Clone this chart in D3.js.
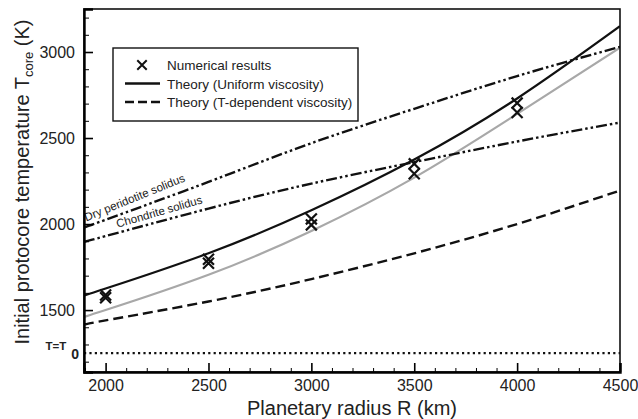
<!DOCTYPE html>
<html>
<head>
<meta charset="utf-8">
<script src="https://cdn.jsdelivr.net/npm/d3@7"></script>
<style>
  body { margin: 0; background: #fff; }
  svg { font-family: "Liberation Sans", Arial, Helvetica, sans-serif; }
</style>
</head>
<body>
<div id="d3-container"></div>
<script>
/**
 * CONSTANTS AND GLOBALS
 * */
const width = 638,
  height = 419,
  margin = { top: 9, bottom: 47, left: 84, right: 18 };

/**
 * DATA
 * */
const radiusGrid = [1895, 2000, 2500, 3000, 3500, 4000, 4500];
const uniformTheory = [1585, 1625, 1830, 2080, 2375, 2730, 3150];
const grayCurve = [1461, 1500, 1705, 1960, 2270, 2640, 3025];
const tDependentTheory = [1415, 1440, 1550, 1680, 1830, 2000, 2195];
const dryPeridotiteSolidus = [1980, 2025, 2245, 2470, 2670, 2860, 3030];
const chondriteSolidus = [1897, 1930, 2090, 2235, 2360, 2480, 2590];

const numRadius = [2000, 2000, 2500, 2500, 3000, 3000, 3500, 3500, 4000, 4000];
const numTemp = [1588, 1572, 1795, 1772, 2030, 1995, 2350, 2292, 2703, 2648];

const xTicks = [2000, 2500, 3000, 3500, 4000, 4500];
const yTicks = [1500, 2000, 2500, 3000];
const tZero = 1250; // where the T = T0 reference line sits on the axis

const legendItems = ["Numerical results", "Theory (Uniform viscosity)", "Theory (T-dependent viscosity)"];

let svg;

function init() {
  svg = d3.select("#d3-container")
    .append("svg")
    .attr("width", width)
    .attr("height", height);

  const x = d3.scaleLinear()
    .domain([1895, 4500])
    .range([margin.left, width - margin.right]);

  const y = d3.scaleLinear()
    .domain([1140, 3250])
    .range([height - margin.bottom, margin.top]);

  const line = vals => d3.line()
    .x((d, i) => x(radiusGrid[i]))
    .y(d => y(d))
    .curve(d3.curveNatural)(vals);

  // clip so the curves stop at the frame
  svg.append("clipPath").attr("id", "plot-clip")
    .append("rect")
    .attr("x", margin.left).attr("y", margin.top)
    .attr("width", width - margin.left - margin.right)
    .attr("height", height - margin.top - margin.bottom);

  const plot = svg.append("g").attr("clip-path", "url(#plot-clip)");

  // T = T0 dotted line
  plot.append("line")
    .attr("x1", margin.left).attr("x2", width - margin.right)
    .attr("y1", y(tZero)).attr("y2", y(tZero))
    .attr("stroke", "#111").attr("stroke-width", 2.2)
    .attr("stroke-dasharray", "2.2,3.2");

  // curves
  const curves = [
    { vals: grayCurve, color: "#a8a8a8", w: 2.2, dash: null },
    { vals: tDependentTheory, color: "#111", w: 2.4, dash: "10,5" },
    { vals: dryPeridotiteSolidus, color: "#111", w: 2.4, dash: "11,3,2.5,3,2.5,3" },
    { vals: chondriteSolidus, color: "#111", w: 2.4, dash: "11,3,2.5,3,2.5,3" },
    { vals: uniformTheory, color: "#111", w: 2.2, dash: null },
  ];
  plot.selectAll("path.curve")
    .data(curves)
    .join("path")
    .attr("class", "curve")
    .attr("fill", "none")
    .attr("stroke", d => d.color)
    .attr("stroke-width", d => d.w)
    .attr("stroke-dasharray", d => d.dash)
    .attr("d", d => line(d.vals));

  // numerical results (x markers)
  const cross = d3.symbol().type(d3.symbolX).size(80);
  plot.selectAll("path.num")
    .data(numRadius.map((r, i) => [r, numTemp[i]]))
    .join("path")
    .attr("class", "num")
    .attr("d", cross)
    .attr("fill", "none")
    .attr("stroke", "#111")
    .attr("stroke-width", 2.2)
    .attr("transform", d => `translate(${x(d[0])},${y(d[1])})`);

  // solidus labels, rotated along the curve
  const solidusLabels = [
    { text: "Dry peridotite solidus", vals: dryPeridotiteSolidus, r: 1915, off: 5, tilt: -2 },
    { text: "Chondrite solidus", vals: chondriteSolidus, r: 2065, off: 5, tilt: -1 },
  ];
  solidusLabels.forEach(lab => {
    const t0 = d3.scaleLinear().domain(radiusGrid).range(lab.vals);
    const px = x(lab.r), py = y(t0(lab.r));
    const ang = Math.atan2(y(t0(lab.r + 300)) - py, x(lab.r + 300) - px) * 180 / Math.PI + lab.tilt;
    svg.append("text")
      .attr("transform", `translate(${px},${py}) rotate(${ang}) translate(0,${-lab.off})`)
      .attr("font-size", 11.5)
      .attr("fill", "#222")
      .text(lab.text);
  });

  // frame
  svg.append("rect")
    .attr("x", margin.left).attr("y", margin.top)
    .attr("width", width - margin.left - margin.right)
    .attr("height", height - margin.top - margin.bottom)
    .attr("fill", "none").attr("stroke", "#111").attr("stroke-width", 1.6);

  // x axis ticks (inward)
  const xMinor = d3.range(1900, 4501, 100).filter(v => v % 500 !== 0);
  const xAxis = svg.append("g").attr("transform", `translate(0,${height - margin.bottom})`);
  xAxis.append("g")
    .call(d3.axisBottom(x).tickValues(xMinor).tickSize(-4).tickFormat(""))
    .call(g => g.select(".domain").remove());
  xAxis.append("g")
    .call(d3.axisBottom(x).tickValues(xTicks).tickSize(-9).tickPadding(8).tickFormat(d3.format("d")))
    .call(g => g.select(".domain").attr("stroke-width", 2.4))
    .call(g => g.selectAll(".tick line").attr("stroke-width", 1.6))
    .call(g => g.selectAll("text").attr("font-size", 16).attr("fill", "#222")
      .attr("font-family", "Liberation Sans, Arial, sans-serif"));

  // y axis ticks (inward)
  const yMinor = d3.range(1200, 3201, 100).filter(v => v % 500 !== 0);
  const yAxis = svg.append("g").attr("transform", `translate(${margin.left},0)`);
  yAxis.append("g")
    .call(d3.axisLeft(y).tickValues(yMinor).tickSize(-5).tickFormat(""))
    .call(g => g.select(".domain").remove());
  yAxis.append("g")
    .call(d3.axisLeft(y).tickValues(yTicks).tickSize(-9).tickPadding(9).tickFormat(d3.format("d")))
    .call(g => g.select(".domain").attr("stroke-width", 2.4))
    .call(g => g.selectAll(".tick line").attr("stroke-width", 1.6))
    .call(g => g.selectAll("text").attr("font-size", 16).attr("fill", "#222")
      .attr("font-family", "Liberation Sans, Arial, sans-serif"));

  // T = T0 label
  const t0Label = svg.append("text")
    .attr("x", 79).attr("y", y(tZero) - 3)
    .attr("text-anchor", "end")
    .attr("font-weight", "bold")
    .attr("font-size", 11.5)
    .attr("fill", "#222");
  t0Label.append("tspan").text("T=T");
  t0Label.append("tspan").attr("dx", 5).attr("dy", 9).attr("font-size", 14).text("0");

  // axis titles
  svg.append("text")
    .attr("x", (margin.left + width - margin.right) / 2)
    .attr("y", 415)
    .attr("text-anchor", "middle")
    .attr("font-size", 20)
    .attr("fill", "#222")
    .text("Planetary radius R (km)");

  const yTitle = svg.append("text")
    .attr("transform", "translate(29,182) rotate(-90)")
    .attr("text-anchor", "middle")
    .attr("font-size", 20)
    .attr("fill", "#222");
  yTitle.append("tspan").text("Initial protocore temperature T");
  yTitle.append("tspan").attr("font-size", 13).attr("dy", 4).text("core");
  yTitle.append("tspan").attr("dy", -4).text(" (K)");

  // legend
  const lg = svg.append("g").attr("transform", "translate(113,48)");
  lg.append("rect")
    .attr("width", 245).attr("height", 73)
    .attr("fill", "#fff").attr("stroke", "#111").attr("stroke-width", 1.4);
  const rowY = d3.scalePoint().domain(legendItems).range([17, 54]);
  lg.selectAll("text.item")
    .data(legendItems)
    .join("text")
    .attr("class", "item")
    .attr("x", 54)
    .attr("y", d => rowY(d) + 5)
    .attr("font-size", 13.5)
    .attr("fill", "#222")
    .text(d => d);
  lg.append("path")
    .attr("d", d3.symbol().type(d3.symbolX).size(60))
    .attr("transform", `translate(29,${rowY(legendItems[0])})`)
    .attr("stroke", "#111").attr("stroke-width", 2).attr("fill", "none");
  lg.append("line")
    .attr("x1", 12).attr("x2", 47)
    .attr("y1", rowY(legendItems[1])).attr("y2", rowY(legendItems[1]))
    .attr("stroke", "#111").attr("stroke-width", 2.4);
  lg.append("line")
    .attr("x1", 12).attr("x2", 47)
    .attr("y1", rowY(legendItems[2])).attr("y2", rowY(legendItems[2]))
    .attr("stroke", "#111").attr("stroke-width", 2.4)
    .attr("stroke-dasharray", "9,4");
}

init();
</script>
</body>
</html>
